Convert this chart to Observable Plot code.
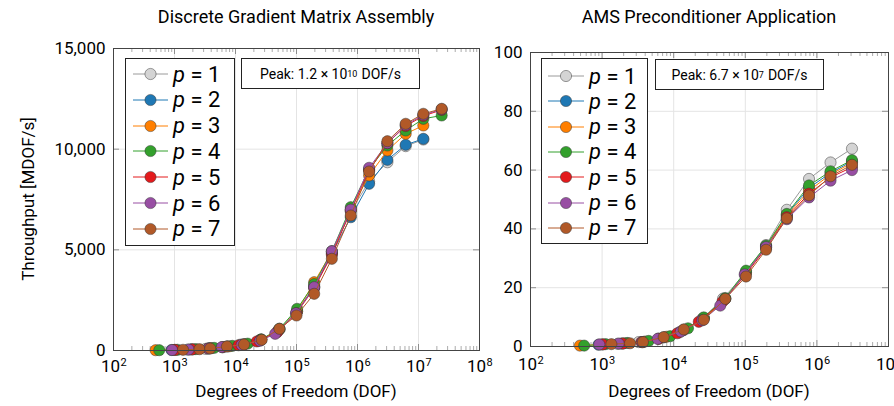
<!DOCTYPE html>
<html>
<head>
<meta charset="utf-8">
<script src="https://cdn.jsdelivr.net/npm/d3@7"></script>
<script src="https://cdn.jsdelivr.net/npm/@observablehq/plot@0.6"></script>
<style>
  html, body { margin: 0; padding: 0; background: #fff; }
  #wrap { position: relative; width: 894px; height: 406px; overflow: hidden; font-family: Roboto, "DejaVu Sans", sans-serif; color: #000; }
  .abs { position: absolute; white-space: nowrap; }
  .title { font-size: 18px; transform: translateX(-50%); }
  .xlabel { font-size: 17px; transform: translateX(-50%); }
  .ylabel { font-size: 17px; transform: translate(-50%, -50%) rotate(-90deg); }
  .legend { background: #fff; border: 1px solid #222; box-sizing: border-box; }
  .row { position: absolute; left: 0; height: 24px; display: flex; align-items: center; }
  .row span { font-size: 22px; margin-left: 5px; }
  .peak { background: #fff; border: 1px solid #222; box-sizing: border-box; font-size: 14px; display: flex; align-items: center; justify-content: center; }
</style>
</head>
<body>
<div id="wrap"></div>
<script>
// ---------- data ----------
const seriesLabels = ["1", "2", "3", "4", "5", "6", "7"];
const seriesColors = ["#d4d4d4", "#1f78b4", "#ff7f00", "#33a02c", "#e31a1c", "#984ea3", "#b15928"];
const lineColors   = ["#9a9a9a", "#1f78b4", "#ff7f00", "#33a02c", "#e31a1c", "#984ea3", "#b15928"];

// Discrete Gradient Matrix Assembly: DOF and throughput [MDOF/s]
const gradDOF = [
  [1660, 3236, 6166, 12000, 25120, 48980, 100000, 195000, 380000, 776000, 1550000, 3090000, 6170000, 12000000],
  [891, 1862, 3715, 7244, 13800, 26300, 52480, 102300, 195000, 380000, 776000, 1550000, 3090000, 6170000, 12000000],
  [490, 1000, 1995, 3981, 7943, 13800, 26300, 52480, 102300, 195000, 380000, 776000, 1550000, 3090000, 6170000, 12000000],
  [562, 1122, 2239, 4467, 8913, 15850, 26300, 52480, 102300, 195000, 380000, 776000, 1550000, 3090000, 6170000, 12000000, 24000000],
  [1023, 1950, 3548, 6166, 11220, 22390, 47860, 100000, 195000, 380000, 776000, 1550000, 3090000, 6170000, 12000000, 24000000],
  [912, 1700, 3630, 5970, 12600, 25100, 44670, 98000, 195000, 380000, 776000, 1550000, 3090000, 6170000, 12000000, 24000000],
  [1380, 2570, 3850, 7244, 13800, 26900, 52480, 100000, 195000, 380000, 776000, 1550000, 3090000, 6170000, 12000000, 24000000]
];
const gradMDOF = [
  [40, 80, 160, 290, 520, 950, 1900, 3200, 4850, 6900, 8400, 9350, 10150, 10480],
  [25, 55, 110, 200, 310, 540, 1050, 1950, 3150, 4800, 6620, 8280, 9470, 10216, 10514],
  [15, 30, 60, 120, 210, 310, 540, 1050, 1950, 3393, 4900, 7000, 8692, 9934, 10762, 11176],
  [15, 35, 70, 130, 230, 340, 550, 1080, 2070, 3300, 4932, 7118, 9000, 10182, 10927, 11508, 11672],
  [30, 55, 100, 170, 260, 450, 900, 1850, 3100, 4750, 6950, 8950, 10300, 11150, 11650, 11950],
  [25, 50, 100, 170, 280, 480, 828, 1850, 3144, 4932, 7000, 9075, 10300, 11200, 11700, 11980],
  [35, 65, 100, 200, 300, 530, 1078, 1738, 2815, 4553, 6705, 8890, 10396, 11260, 11757, 12005]
];

// AMS Preconditioner Application: DOF and throughput [MDOF/s]
const amsDOF = [
  [1660, 3236, 6166, 12000, 25120, 48980, 100000, 195000, 380000, 776000, 1550000, 3090000],
  [891, 1862, 3715, 7244, 13800, 26300, 52480, 102300, 195000, 380000, 776000, 1550000, 3090000],
  [490, 1000, 1995, 3981, 7943, 13800, 26300, 52480, 102300, 195000, 380000, 776000, 1550000, 3090000],
  [562, 1122, 2239, 4467, 8913, 15850, 26300, 52480, 102300, 195000, 380000, 776000, 1550000, 3090000],
  [1023, 1950, 3548, 6166, 11220, 22390, 47860, 100000, 195000, 380000, 776000, 1550000, 3090000],
  [912, 1700, 3630, 5970, 12600, 25100, 44670, 98000, 195000, 380000, 776000, 1550000, 3090000],
  [1349, 2455, 3715, 7244, 13800, 26300, 52480, 102300, 195000, 380000, 776000, 1550000, 3090000]
];
const amsMDOF = [
  [0.9, 1.5, 2.7, 4.8, 9.5, 16.3, 25, 34.5, 46.5, 57, 62.6, 67.3],
  [0.6, 1.0, 1.5, 3.1, 5.6, 9.6, 16.2, 25.2, 34, 44.8, 54, 59, 63],
  [0.3, 0.7, 1.1, 1.7, 3.3, 5.7, 9.6, 16.2, 25, 33.8, 44.5, 53, 58.5, 62.5],
  [0.3, 0.8, 1.2, 1.9, 3.5, 6.2, 9.9, 16.5, 25.8, 34.3, 45.1, 54.8, 59.6, 63.4],
  [0.7, 1.0, 1.5, 2.6, 4.5, 8.4, 15.2, 24.3, 33.5, 44, 52, 57.5, 61],
  [0.7, 1.0, 1.5, 2.6, 5.1, 8.9, 13.9, 24.5, 33.8, 43.3, 50.7, 56.4, 60],
  [0.8, 1.1, 1.5, 3.2, 5.8, 9.1, 16.2, 23.8, 32.9, 43.6, 51.4, 57.9, 61.8]
];

const gradXTicks = [1e2, 1e3, 1e4, 1e5, 1e6, 1e7, 1e8];
const amsXTicks  = [1e2, 1e3, 1e4, 1e5, 1e6, 1e7];
const gradYTicks = [0, 5000, 10000, 15000];
const amsYTicks  = [0, 20, 40, 60, 80, 100];

const titles = ["Discrete Gradient Matrix Assembly", "AMS Preconditioner Application"];
const xLabel = "Degrees of Freedom (DOF)";
const yLabel = "Throughput [MDOF/s]";
const peakTexts = [["1.2", "10"], ["6.7", "7"]];

// ---------- drawing ----------
const FONT = 'Roboto, "DejaVu Sans", sans-serif';

function minorTicks(xTicks) {
  const out = [];
  for (let i = 0; i < xTicks.length - 1; i++)
    for (let k = 2; k <= 9; k++) out.push(xTicks[i] * k);
  return out;
}

function makeChart({dofs, vals, xTicks, yTicks, yDomain, yFmt, width, height, ml, mr, mt, mb, labelDy}) {
  const fw = width - ml - mr, fh = height - mt - mb;
  const inner = xTicks.slice(1, -1);
  const marks = [
    Plot.ruleX(inner, {stroke: "#e4e4e4", strokeWidth: 1}),
    Plot.ruleY(yTicks.slice(1, -1), {stroke: "#e4e4e4", strokeWidth: 1}),
    Plot.tickX(minorTicks(xTicks), {insetTop: fh - 4, stroke: "#888", strokeWidth: 0.7}),
    Plot.tickX(minorTicks(xTicks), {insetBottom: fh - 4, stroke: "#888", strokeWidth: 0.7}),
    Plot.tickX(inner, {insetTop: fh - 6, stroke: "#777", strokeWidth: 0.8}),
    Plot.tickX(inner, {insetBottom: fh - 6, stroke: "#777", strokeWidth: 0.8}),
    Plot.tickY(yTicks.slice(1, -1), {insetRight: fw - 6, stroke: "#777", strokeWidth: 0.8}),
    Plot.tickY(yTicks.slice(1, -1), {insetLeft: fw - 6, stroke: "#777", strokeWidth: 0.8})
  ];
  dofs.forEach((xs, i) => {
    const data = xs.map((x, j) => ({x, y: vals[i][j]}));
    marks.push(Plot.line(data, {x: "x", y: "y", stroke: lineColors[i], strokeWidth: 1}));
    marks.push(Plot.dot(data, {x: "x", y: "y", r: 5.6, fill: seriesColors[i], stroke: "#333", strokeWidth: 0.6, strokeOpacity: 0.8}));
  });
  marks.push(Plot.frame({stroke: "#444", strokeWidth: 1}));
  marks.push(Plot.axisY(yTicks, {tickSize: 0, tickPadding: 8, tickFormat: yFmt, fontSize: 17, label: null}));
  marks.push(Plot.text(xTicks, {x: d => d, frameAnchor: "bottom", dy: labelDy, dx: -3, text: () => "10", fontSize: 17, fill: "#000"}));
  marks.push(Plot.text(xTicks, {x: d => d, frameAnchor: "bottom", dy: labelDy - 6, dx: 7, text: d => String(Math.round(Math.log10(d))), textAnchor: "start", fontSize: 11, fill: "#000"}));
  return Plot.plot({
    width, height,
    marginLeft: ml, marginRight: mr, marginTop: mt, marginBottom: mb,
    x: {type: "log", domain: [xTicks[0], xTicks[xTicks.length - 1]], axis: null},
    y: {domain: yDomain, axis: null},
    style: {fontFamily: FONT, fontSize: "17px", color: "#000", overflow: "visible", background: "transparent"},
    marks
  });
}

const wrap = document.getElementById("wrap");

function place(el, left, top) {
  el.style.position = "absolute";
  el.style.left = left + "px";
  el.style.top = top + "px";
  wrap.appendChild(el);
}

const left = makeChart({dofs: gradDOF, vals: gradMDOF, xTicks: gradXTicks, yTicks: gradYTicks, yDomain: [0, 15000],
  yFmt: d3.format(","), width: 490, height: 406, ml: 113, mr: 11, mt: 48, mb: 56, labelDy: 21});
place(left, 0, 0);

const right = makeChart({dofs: amsDOF, vals: amsMDOF, xTicks: amsXTicks, yTicks: amsYTicks, yDomain: [0, 100],
  yFmt: d => String(d), width: 404, height: 406, ml: 40, mr: 6, mt: 52, mb: 60, labelDy: 23});
place(right, 490, 0);

function div(cls, html, left, top, extra) {
  const d = document.createElement("div");
  d.className = "abs " + cls;
  d.innerHTML = html;
  d.style.left = left + "px";
  d.style.top = top + "px";
  if (extra) Object.assign(d.style, extra);
  wrap.appendChild(d);
  return d;
}

div("title", titles[0], 296, 6);
div("title", titles[1], 709, 6);
div("xlabel", xLabel, 296, 381);
div("xlabel", xLabel, 709, 381);
div("ylabel", yLabel, 28, 199);

function legend(x, y, w, h, rowTop, rowStep, lineX0, lineX1) {
  const box = div("legend", "", x, y, {width: w + "px", height: h + "px"});
  seriesLabels.forEach((lab, i) => {
    const row = document.createElement("div");
    row.className = "row";
    row.style.top = (rowTop + i * rowStep - 12) + "px";
    row.style.left = lineX0 + "px";
    const sw = lineX1 - lineX0;
    row.innerHTML = `<svg width="${sw}" height="24"><line x1="0" x2="${sw}" y1="12" y2="12" stroke="${lineColors[i]}" stroke-width="1"/>` +
      `<circle cx="${sw / 2}" cy="12" r="5.6" fill="${seriesColors[i]}" stroke="#333" stroke-width="0.6" stroke-opacity="0.8"/></svg>` +
      `<span><i>p</i> = ${lab}</span>`;
    box.appendChild(row);
  });
}
legend(125, 58, 110, 188, 15, 25.8, 7, 42);
legend(541, 58, 107, 186, 17, 25.3, 6, 42);

function peak(x, y, w, h, t) {
  div("peak", `Peak:&nbsp;${t[0]}&nbsp;×&nbsp;10<sup style="font-size:9px;margin-right:4px">${t[1]}</sup>DOF/s`, x, y, {width: w + "px", height: h + "px"});
}
peak(241, 58, 179, 31, peakTexts[0]);
peak(655, 59, 169, 31, peakTexts[1]);
</script>
</body>
</html>
